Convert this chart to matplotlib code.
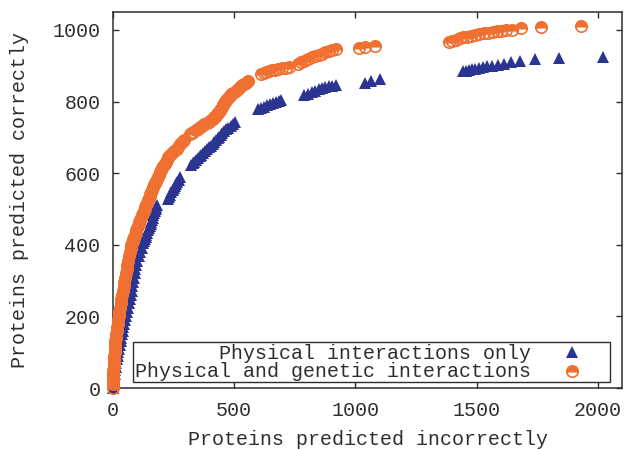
import matplotlib
matplotlib.use("Agg")
import matplotlib.pyplot as plt
from matplotlib.patches import Rectangle

plt.rcParams['font.family'] = ['Liberation Mono', 'DejaVu Sans Mono']

# ---- data: Physical interactions only (blue triangles) ----
phys_x = [0, 2, 4, 6, 8, 10, 12, 14, 16, 19, 22, 25, 28, 31, 34, 37, 40, 43, 46, 50,
          54, 58, 62, 66, 70, 74, 77, 80, 83, 86, 89, 92, 95, 100, 106, 112, 118, 124,
          128, 131, 135, 138, 142, 145, 149, 152, 155, 158, 161, 164, 167, 170, 173, 176, 179, 182,
          226, 231, 236, 241, 246, 251, 256, 261, 266, 272, 278,
          320, 328, 335, 342, 350, 358, 365, 372, 380, 388, 397, 405, 412, 418, 425, 432, 438,
          445, 451, 460, 468, 476, 485, 495, 504,
          600, 612, 625, 636, 648, 660, 672, 684, 695,
          790, 805, 820, 835, 850, 862, 876, 890, 905, 920,
          1040, 1065, 1100,
          1442, 1455, 1468, 1480, 1495, 1510, 1525, 1545, 1565, 1590, 1615, 1640, 1678,
          1740, 1840, 2022]
phys_y = [0, 10, 20, 30, 40, 50, 60, 70, 80, 90, 100, 110, 120, 130, 140, 150, 160, 170, 180, 190,
          200, 212, 224, 236, 248, 260, 272, 284, 296, 308, 320, 332, 344, 356, 368, 380, 392, 404,
          410, 416, 422, 428, 434, 440, 446, 452, 458, 464, 470, 476, 482, 488, 494, 500, 505, 510,
          528, 534, 540, 546, 552, 558, 564, 570, 576, 582, 588,
          622, 627, 632, 637, 642, 647, 652, 657, 662, 667, 672, 677, 682, 687, 692, 697, 702,
          707, 712, 717, 722, 727, 732, 737, 742,
          778, 782, 786, 790, 794, 797, 800, 802, 804,
          818, 822, 826, 830, 834, 837, 840, 842, 844, 846,
          853, 857, 864,
          884, 886, 888, 890, 892, 894, 896, 898, 900, 903, 906, 909, 914,
          918, 922, 925]

# ---- data: Physical and genetic interactions (orange half circles) ----
gen_x = [0, 0, 1, 1, 2, 2, 3, 4, 5, 6, 7, 8, 9, 10, 11, 13, 15, 17, 19, 21,
         23, 26, 29, 32, 35, 38, 41, 44, 47, 50, 53, 56, 59, 62, 65, 69, 73,
         75, 78, 81, 84, 87, 90, 93, 96, 99, 102, 106, 109, 112, 116, 119, 123, 126, 130,
         133, 137, 140, 144, 147, 151, 154, 158, 162, 166, 170, 174, 178, 182,
         186, 190, 194, 198, 203, 208, 213, 218, 223, 228, 236, 245, 253, 262, 270, 278, 285, 292,
         318, 325, 332, 341, 350, 359, 368, 377, 386, 395, 404, 411, 418, 423, 428, 432, 436,
         440, 444, 448, 452, 457, 462, 468, 474, 481, 488, 497, 506, 515, 524, 532, 540, 548, 556,
         612, 622, 632, 642, 655, 668, 682, 698, 714, 727,
         762, 775, 790, 806, 820, 834, 848, 862, 876, 890, 905, 920,
         1015, 1040, 1082,
         1385, 1400, 1415, 1430, 1445, 1460, 1478, 1495, 1512, 1530, 1548, 1566, 1584,
         1602, 1620, 1645, 1685,
         1764, 1930]
gen_y = [0, 10, 20, 30, 40, 50, 60, 70, 80, 90, 100, 110, 120, 130, 140, 150, 160, 170, 180, 190,
         200, 212, 224, 236, 248, 260, 272, 284, 296, 308, 320, 332, 344, 356, 368, 380, 392,
         398, 404, 410, 416, 422, 428, 434, 440, 446, 452, 458, 464, 470, 476, 482, 488, 494, 500,
         506, 512, 518, 524, 530, 536, 542, 548, 554, 560, 566, 572, 578, 584,
         590, 596, 602, 608, 614, 620, 626, 632, 638, 644, 650, 656, 662, 668, 674, 680, 686, 692,
         708, 712, 716, 720, 724, 728, 732, 736, 740, 744, 748, 752, 756, 760, 764, 768, 772,
         776, 780, 785, 790, 795, 800, 805, 810, 815, 820, 825, 830, 835, 840, 845, 850, 853, 856,
         876, 879, 882, 885, 887, 889, 891, 893, 895, 897,
         905, 909, 914, 919, 923, 927, 931, 934, 937, 940, 943, 946,
         950, 952, 955,
         966, 970, 973, 976, 979, 981, 984, 986, 988, 990, 992, 994, 996,
         998, 999, 1001, 1004,
         1007, 1012]

labels = ["Physical interactions only", "Physical and genetic interactions"]
x_ticks = [0, 500, 1000, 1500, 2000]
y_ticks = [0, 200, 400, 600, 800, 1000]

BLUE = '#2b3591'
ORANGE = '#f07032'
TXT = '#2e2e2e'
FS = 14.4

fig = plt.figure(figsize=(6.27, 4.49), dpi=100)
ax = fig.add_axes([113/627, 1 - 388/449, (622-113)/627, (388-12)/449])

ax.plot(phys_x, phys_y, linestyle='none', marker='^', ms=8, color=BLUE,
        markeredgewidth=0, clip_on=False, zorder=3)
ax.plot(gen_x, gen_y, linestyle='none', marker='o', ms=8.2, fillstyle='top',
        markerfacecolor=ORANGE, markerfacecoloralt='none', markeredgecolor=ORANGE,
        markeredgewidth=1.2, clip_on=False, zorder=4)

ax.set_xlim(0, 2100)
ax.set_ylim(0, 1050)
ax.set_xticks(x_ticks)
ax.set_yticks(y_ticks)
ax.tick_params(direction='in', length=4, width=1, top=True, right=True,
               labelsize=FS, labelcolor=TXT, color=TXT, pad=9)
for s in ax.spines.values():
    s.set_linewidth(1.1)
    s.set_color(TXT)

ax.set_xlabel("Proteins predicted incorrectly", fontsize=FS, color=TXT)
ax.set_ylabel("Proteins predicted correctly", fontsize=FS, color=TXT)
ax.xaxis.set_label_coords(0.5, -0.112)
ax.yaxis.set_label_coords(-0.166, 0.5)

# gnuplot-style key
ax.add_patch(Rectangle((0.040, 0.016), 0.936, 0.106, transform=ax.transAxes,
                       facecolor='white', edgecolor=TXT, linewidth=1.0, zorder=5))
ax.text(0.821, 0.093, labels[0], transform=ax.transAxes, ha='right', va='center',
        fontsize=FS, color=TXT, zorder=6)
ax.text(0.821, 0.043, labels[1], transform=ax.transAxes, ha='right', va='center',
        fontsize=FS, color=TXT, zorder=6)
ax.plot([0.901], [0.097], transform=ax.transAxes, linestyle='none', marker='^', ms=8,
        color=BLUE, markeredgewidth=0, zorder=6, clip_on=False)
ax.plot([0.901], [0.045], transform=ax.transAxes, linestyle='none', marker='o', ms=8.2,
        fillstyle='top', markerfacecolor=ORANGE, markerfacecoloralt='none',
        markeredgecolor=ORANGE, markeredgewidth=1.2, zorder=6, clip_on=False)

fig.savefig("out.png", dpi=100)
